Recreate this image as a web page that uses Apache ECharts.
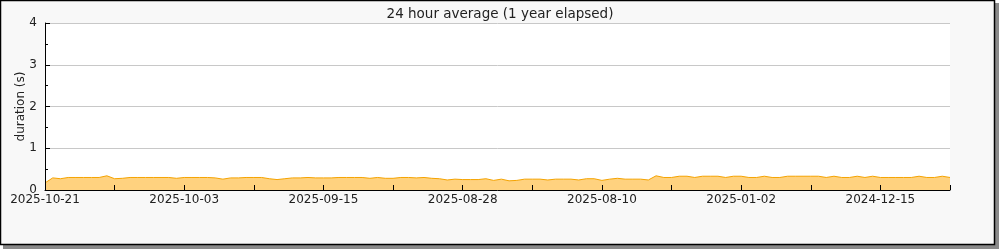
<!DOCTYPE html>
<html>
<head>
<meta charset="utf-8">
<script src="https://cdn.jsdelivr.net/npm/echarts@6/dist/echarts.min.js"></script>
<style>
html,body{margin:0;padding:0;background:#fff;}
#chart{width:1000px;height:250px;}
</style>
</head>
<body>
<div id="chart"></div>
<script>
// Category date ranges (newest first): [start date, number of daily entries]
const dateRanges = [["2025-10-21", 80], ["2025-01-12", 38]];

// 24 hour average durations (s), one per category
const durations = [
  0.17, 0.29, 0.27, 0.30, 0.30, 0.30, 0.30, 0.30, 0.34, 0.27,
  0.28, 0.30, 0.30, 0.30, 0.30, 0.30, 0.30, 0.28, 0.30, 0.30,
  0.30, 0.30, 0.29, 0.26, 0.29, 0.29, 0.30, 0.30, 0.30, 0.27,
  0.25, 0.27, 0.29, 0.29, 0.30, 0.29, 0.29, 0.29, 0.30, 0.30,
  0.30, 0.30, 0.28, 0.30, 0.28, 0.28, 0.30, 0.30, 0.29, 0.30,
  0.28, 0.27, 0.24, 0.26, 0.25, 0.25, 0.25, 0.27, 0.23, 0.26,
  0.22, 0.23, 0.26, 0.26, 0.26, 0.24, 0.26, 0.26, 0.26, 0.24,
  0.27, 0.27, 0.23, 0.26, 0.28, 0.26, 0.26, 0.26, 0.24, 0.34,
  0.30, 0.30, 0.33, 0.33, 0.30, 0.33, 0.33, 0.33, 0.30, 0.33,
  0.33, 0.30, 0.30, 0.33, 0.30, 0.30, 0.33, 0.33, 0.33, 0.33,
  0.33, 0.30, 0.33, 0.30, 0.30, 0.33, 0.30, 0.33, 0.30, 0.30,
  0.30, 0.30, 0.30, 0.33, 0.30, 0.30, 0.33, 0.30
];

const yTicks = [0, 1, 2, 3, 4];
const titleText = "24 hour average (1 year elapsed)";
const yAxisName = "duration (s)";

function pad(n){ return (n < 10 ? "0" : "") + n; }
const categories = [];
dateRanges.forEach(function(r){
  const p = r[0].split("-").map(Number);
  const d = new Date(Date.UTC(p[0], p[1]-1, p[2]));
  for (let i = 0; i < r[1]; i++) {
    categories.push(d.getUTCFullYear() + "-" + pad(d.getUTCMonth()+1) + "-" + pad(d.getUTCDate()));
    d.setUTCDate(d.getUTCDate() - 1);
  }
});

const FONT = "DejaVu Sans";
const chart = echarts.init(document.getElementById("chart"), null, {renderer: "canvas"});
chart.setOption({
  animation: false,
  backgroundColor: "transparent",
  graphic: [
    {type: "rect", z: -10, silent: true, shape: {x: 3, y: 3, width: 996, height: 246},
     style: {fill: "#8a8a8a"}},
    {type: "rect", z: -9, silent: true, shape: {x: 0.5, y: 0.5, width: 994, height: 244},
     style: {fill: "#f8f8f8", stroke: "#000", lineWidth: 1.5}}
  ],
  title: {
    text: titleText, left: "center", top: 2,
    textStyle: {fontFamily: FONT, fontSize: 13.5, fontWeight: "normal", color: "#222"}
  },
  grid: {left: 45, right: 50, top: 23, bottom: 60, show: true,
         backgroundColor: "#fff", borderWidth: 0},
  xAxis: {
    type: "category", data: categories, boundaryGap: false, z: 10,
    axisLine: {lineStyle: {color: "#000", width: 1}},
    axisTick: {show: true, inside: true, length: 5, interval: 8, lineStyle: {color: "#000", width: 1}},
    axisLabel: {interval: 17, margin: 4, fontFamily: FONT, fontSize: 12, color: "#222"},
    splitLine: {show: false}
  },
  yAxis: {
    type: "value", min: yTicks[0], max: yTicks[yTicks.length-1], interval: 1, z: 10,
    name: yAxisName, nameLocation: "middle", nameGap: 18, nameRotate: 90, nameMoveOverlap: false,
    nameTextStyle: {fontFamily: FONT, fontSize: 12, color: "#222"},
    axisLine: {show: true, lineStyle: {color: "#000", width: 1}},
    axisTick: {show: true, inside: true, length: 5, lineStyle: {color: "#000"}},
    minorTick: {show: true, splitNumber: 2, length: 3, lineStyle: {color: "#000"}},
    axisLabel: {margin: 8, fontFamily: FONT, fontSize: 12, color: "#222"},
    splitLine: {show: true, lineStyle: {color: "#c8c8c8", width: 1}}
  },
  series: [{
    type: "line", data: durations, symbol: "none", smooth: false, z: 2,
    lineStyle: {color: "#f5a300", width: 1},
    areaStyle: {color: "#ffd27f", opacity: 1}
  }]
});
</script>
</body>
</html>
